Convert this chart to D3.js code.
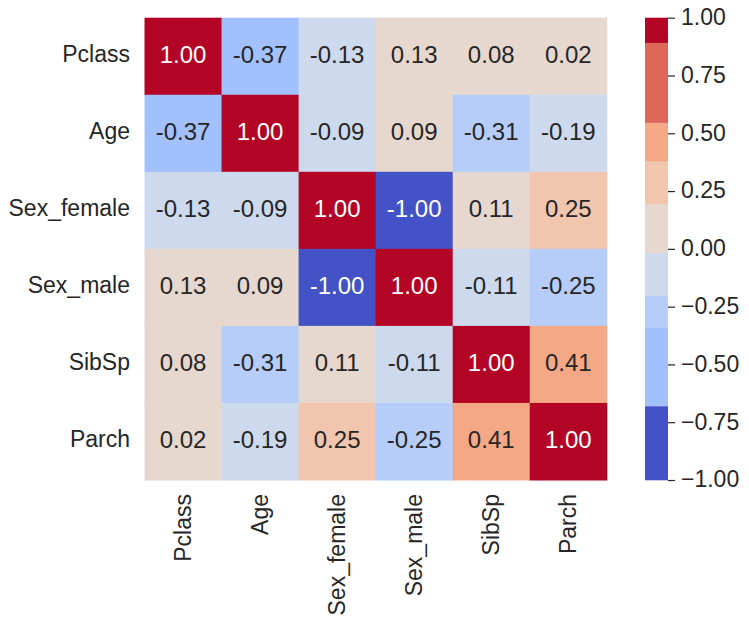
<!DOCTYPE html>
<html><head><meta charset="utf-8">
<script src="https://cdn.jsdelivr.net/npm/d3@7"></script>
<style>
html,body{margin:0;padding:0;background:#fff;}
svg{display:block;font-family:"Liberation Sans",Arial,sans-serif;}
</style></head>
<body>
<svg id="chart" width="749" height="624"></svg>
<script>
const labels = ["Pclass","Age","Sex_female","Sex_male","SibSp","Parch"];
const values = [
  [ 1.00,-0.37,-0.13, 0.13, 0.08, 0.02],
  [-0.37, 1.00,-0.09, 0.09,-0.31,-0.19],
  [-0.13,-0.09, 1.00,-1.00, 0.11, 0.25],
  [ 0.13, 0.09,-1.00, 1.00,-0.11,-0.25],
  [ 0.08,-0.31, 0.11,-0.11, 1.00, 0.41],
  [ 0.02,-0.19, 0.25,-0.25, 0.41, 1.00]
];
const bandEdges = [-1, -0.68, -0.341, -0.203, -0.017, 0.194, 0.38, 0.546, 0.892, 1];
const bandColors = ["#4352c6","#a2c0fc","#b6cdf9","#cdd9ec","#e6d8cf","#f1c5ae","#f4a886","#dd6857","#b40426"];
const cbarTicks = [-1,-0.75,-0.5,-0.25,0,0.25,0.5,0.75,1];
const darkCells = ["#4352c6","#b40426"];

const svg = d3.select("#chart");
const mLeft = 144.5, mTop = 17.7, size = 462.3;
const x = d3.scaleBand().domain(labels).range([mLeft, mLeft+size]);
const y = d3.scaleBand().domain(labels).range([mTop, mTop+size]);
const color = d3.scaleThreshold().domain(bandEdges.slice(1,-1)).range(bandColors);

const cells = [];
values.forEach((row,i)=>row.forEach((v,j)=>cells.push({r:labels[i],c:labels[j],v})));

svg.append("g").selectAll("rect").data(cells).join("rect")
  .attr("x",d=>x(d.c)).attr("y",d=>y(d.r))
  .attr("width",x.bandwidth()+0.5).attr("height",y.bandwidth()+0.5)
  .attr("fill",d=>color(d.v));

svg.append("g").selectAll("text").data(cells).join("text")
  .attr("x",d=>x(d.c)+x.bandwidth()/2).attr("y",d=>y(d.r)+y.bandwidth()/2)
  .attr("text-anchor","middle").attr("dy","0.28em")
  .attr("font-size",24)
  .attr("fill",d=>darkCells.includes(color(d.v))?"#ffffff":"#262626")
  .text(d=>d.v.toFixed(2));

// y axis labels
svg.append("g").selectAll("text").data(labels).join("text")
  .attr("x",130).attr("y",d=>y(d)+y.bandwidth()/2)
  .attr("text-anchor","end").attr("dy","0.25em")
  .attr("font-size",23).attr("fill","#262626").text(d=>d);

// x axis labels rotated
svg.append("g").selectAll("text").data(labels).join("text")
  .attr("transform",d=>`translate(${x(d)+x.bandwidth()/2},${mTop+size+14}) rotate(-90)`)
  .attr("text-anchor","end").attr("dy","0.33em")
  .attr("font-size",23).attr("fill","#262626").text(d=>d);

// colorbar
const cbX = 645, cbW = 23;
const cy = d3.scaleLinear().domain([-1,1]).range([mTop+size, mTop]);
const bands = bandColors.map((c,i)=>({lo:bandEdges[i],hi:bandEdges[i+1],c}));
svg.append("g").selectAll("rect").data(bands).join("rect")
  .attr("x",cbX).attr("width",cbW)
  .attr("y",d=>cy(d.hi)).attr("height",d=>cy(d.lo)-cy(d.hi)+0.3)
  .attr("fill",d=>d.c);

const axis = d3.axisRight(cy).tickValues(cbarTicks).tickSize(7).tickPadding(6)
  .tickFormat(d=>d3.format(".2f")(d).replace("-","\u2212"));
const ag = svg.append("g").attr("transform",`translate(${cbX+cbW},0)`).call(axis);
ag.select(".domain").remove();
ag.selectAll(".tick line").attr("stroke","#262626").attr("stroke-width",1.2);
ag.selectAll(".tick text").attr("font-size",23).attr("fill","#262626").attr("dy","0.3em")
  .attr("font-family","'Liberation Sans',Arial,sans-serif");
</script>
</body></html>
